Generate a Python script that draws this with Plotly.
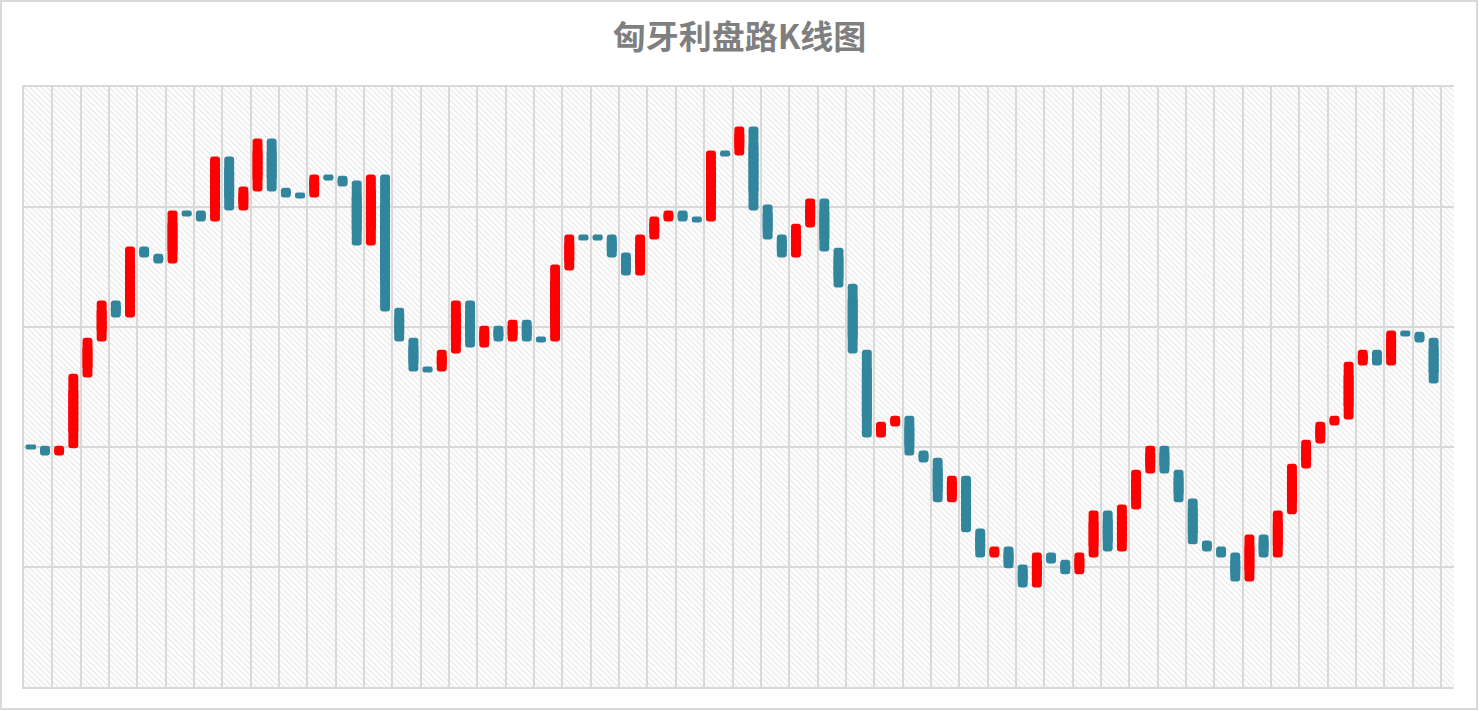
import plotly.graph_objects as go

# 匈牙利盘路K线图: 100 根K线（开盘/收盘），每格两根
open_ = [0.2, 0.1, -0.7, -0.1, 5.8, 8.8, 12.2, 10.8, 16.7, 16.1,
         15.3, 19.7, 19.7, 18.8, 24.2, 19.7, 21.3, 25.7, 21.6, 21.2,
         20.8, 22.7, 22.6, 22.2, 16.8, 22.7, 11.6, 9.1, 6.7, 6.3,
         7.8, 12.2, 8.3, 10.1, 8.8, 10.6, 9.2, 8.8, 14.7, 17.7,
         17.7, 17.7, 16.2, 14.3, 17.3, 18.8, 19.7, 19.2, 18.8, 24.7,
         24.3, 26.7, 20.2, 17.7, 15.8, 18.3, 20.7, 16.6, 13.6, 8.1,
         0.8, 1.7, 2.6, -0.3, -0.9, -4.6, -2.4, -6.8, -9.2, -8.3,
         -9.8, -11.7, -8.8, -9.4, -10.6, -9.2, -5.3, -8.7, -5.2, -2.2,
         0.1, -1.9, -4.3, -7.8, -8.3, -8.8, -11.2, -7.3, -9.2, -5.6,
         -1.8, 0.3, 1.8, 2.3, 6.8, 8.1, 6.8, 9.7, 9.6, 9.1]
close = [-0.2, -0.7, 0.1, 6.1, 9.1, 12.2, 10.8, 16.7, 15.8, 15.3,
         19.7, 19.2, 18.8, 24.2, 19.7, 21.7, 25.7, 21.3, 20.8, 20.7,
         22.7, 22.2, 21.7, 16.8, 22.7, 11.3, 8.8, 6.3, 6.2, 8.1,
         12.2, 8.3, 10.1, 8.8, 10.6, 8.8, 8.7, 15.2, 17.7, 17.2,
         17.2, 15.8, 14.3, 17.7, 19.2, 19.7, 18.8, 18.7, 24.7, 24.2,
         26.7, 19.7, 17.3, 15.8, 18.6, 20.7, 16.3, 13.3, 7.8, 0.8,
         2.1, 2.6, -0.7, -1.3, -4.6, -2.4, -7.1, -9.2, -8.3, -10.1,
         -11.7, -8.8, -9.7, -10.6, -8.8, -5.3, -8.7, -4.8, -1.9, 0.1,
         -2.2, -4.6, -8.1, -8.7, -9.2, -11.2, -7.3, -9.2, -5.3, -1.4,
         0.6, 2.1, 2.6, 7.1, 8.1, 6.8, 9.7, 9.2, 8.7, 5.3]

n_cells = 50          # 竖网格格数，每格两根K线
y_ticks = [-20, -10, 0, 10, 20, 30]

UP = "#FF0000"
DOWN = "#31859C"
GRID = "#D9D9D9"

x = [i * 0.5 + 0.24 for i in range(len(open_))]
lo = [min(o, c) for o, c in zip(open_, close)]
hi = [max(o, c) for o, c in zip(open_, close)]
colors = [UP if c > o else DOWN for o, c in zip(open_, close)]

# 每根K线拆成上下两段（大幅重叠），两端都能圆角
base_up = [l + 0.2 * (h - l) for l, h in zip(lo, hi)]
base_dn = [l + 0.8 * (h - l) for l, h in zip(lo, hi)]

fig = go.Figure()

# 底层：斜纹背景
fig.add_trace(go.Bar(
    x=[0.5], y=[1], base=[0], width=[1],
    marker=dict(color="white", line_width=0,
                pattern=dict(shape="\\", fgcolor="#D0D0D0", bgcolor="white",
                             size=4, solidity=0.3)),
    hoverinfo="skip", showlegend=False, xaxis="x", yaxis="y"))

fig.add_trace(go.Bar(
    x=x, y=[h - b for h, b in zip(hi, base_up)], base=base_up, width=0.35,
    marker=dict(color=colors, line_width=0, cornerradius=3),
    customdata=list(zip(open_, close)),
    hovertemplate="开: %{customdata[0]}<br>收: %{customdata[1]}<extra></extra>",
    showlegend=False, xaxis="x2", yaxis="y2"))
fig.add_trace(go.Bar(
    x=x, y=[l - b for l, b in zip(lo, base_dn)], base=base_dn, width=0.35,
    marker=dict(color=colors, line_width=0, cornerradius=3),
    hoverinfo="skip", showlegend=False, xaxis="x2", yaxis="y2"))

fig.update_layout(
    width=1479, height=711,
    margin=dict(l=24, r=25, t=87, b=24),
    paper_bgcolor="white", plot_bgcolor="rgba(0,0,0,0)",
    barmode="overlay",
    title=dict(text="<b>匈牙利盘路K线图</b>", x=0.5, xanchor="center",
               y=1 - 37 / 711, yanchor="middle",
               font=dict(family="Noto Sans CJK SC", size=33, color="#7F7F7F")),
    xaxis=dict(domain=[0, 1], range=[0, 1], visible=False, fixedrange=True),
    yaxis=dict(domain=[0, 1], range=[0, 1], visible=False, fixedrange=True),
    xaxis2=dict(domain=[0, 1], anchor="y2", range=[0, n_cells + 13 / 28.33],
                tick0=0, dtick=1, showgrid=True, gridcolor=GRID, gridwidth=2,
                showticklabels=False, ticks="", zeroline=False,
                showline=True, mirror=True, linecolor=GRID, linewidth=2),
    yaxis2=dict(domain=[0, 1], anchor="x2", range=[y_ticks[0], y_ticks[-1]],
                tickvals=y_ticks, showgrid=True, gridcolor=GRID, gridwidth=2,
                showticklabels=False, ticks="", zeroline=False,
                showline=True, linecolor=GRID, linewidth=2),
    shapes=[dict(type="rect", xref="paper", yref="paper",
                 x0=-23 / 1430, x1=1 + 23 / 1430, y0=-22 / 600, y1=1 + 86 / 600,
                 line=dict(color=GRID, width=2), fillcolor="rgba(0,0,0,0)",
                 layer="below")],
)

fig.write_html("out.html", config={"displayModeBar": False},
               post_script="document.body.style.margin='0';")
